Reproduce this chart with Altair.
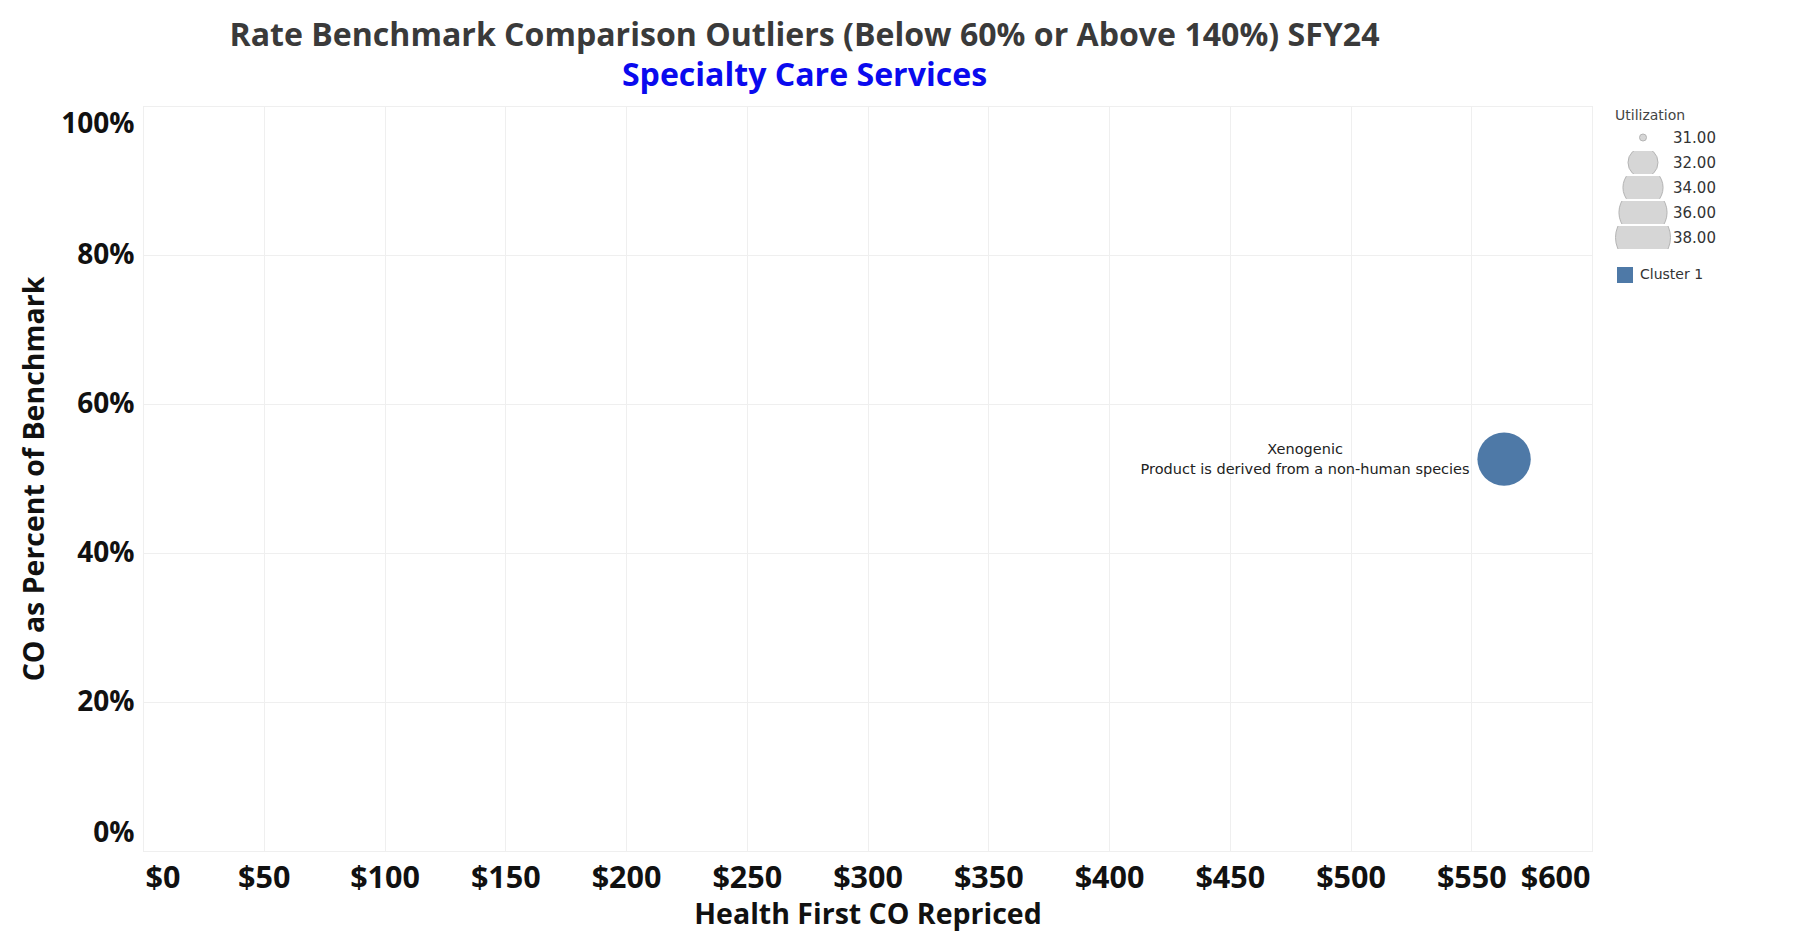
import altair as alt
import pandas as pd

# ---- data ----
repriced = [563.6]                      # Health First CO Repriced ($)
pct_of_benchmark = [0.526]              # CO as Percent of Benchmark
utilization = [37.5]
cluster = ["Cluster 1"]
label_name = ["Xenogenic"]
label_desc = ["Product is derived from a non-human species"]

x_ticks = [0, 50, 100, 150, 200, 250, 300, 350, 400, 450, 500, 550, 600]
y_ticks = [0.0, 0.2, 0.4, 0.6, 0.8, 1.0]
size_legend_values = [31, 32, 34, 36, 38]
cluster_colors = ["#4e79a7"]

df = pd.DataFrame({
    "repriced": repriced,
    "pct": pct_of_benchmark,
    "utilization": utilization,
    "cluster": cluster,
    "name": label_name,
    "desc": label_desc,
})
df["label"] = df["name"] + "\n" + df["desc"]

W, H = 1449, 745
PAD = {"left": 135, "top": 98, "right": 195, "bottom": 82}

BOLD_FONT = "Open Sans"
SMALL_FONT = "DejaVu Sans"

x_enc = alt.X(
    "repriced:Q",
    title="Health First CO Repriced",
    scale=alt.Scale(domain=[0, 600], nice=False, zero=False),
    axis=alt.Axis(
        values=x_ticks, format="$.0f",
        labelFont=BOLD_FONT, labelFontSize=30.5, labelFontWeight="bold", labelColor="#111111",
        labelFlush=True, labelFlushOffset=-2, labelPadding=12, ticks=False, domain=False,
        grid=True, gridColor="#efefef", gridWidth=1,
        titleFont=BOLD_FONT, titleFontSize=28.5, titleFontWeight="bold", titleColor="#111111",
        titleY=63, titleBaseline="middle",
    ),
)
y_enc = alt.Y(
    "pct:Q",
    title="CO as Percent of Benchmark",
    scale=alt.Scale(domain=[0, 1], nice=False, zero=False),
    axis=alt.Axis(
        values=y_ticks, format=".0%",
        labelFont=BOLD_FONT, labelFontSize=28, labelFontWeight="bold", labelColor="#111111",
        labelFlush=True, labelFlushOffset=-4, labelPadding=9, ticks=False, domain=False,
        grid=True, gridColor="#efefef", gridWidth=1,
        titleFont=BOLD_FONT, titleFontSize=28.5, titleFontWeight="bold", titleColor="#111111",
        titleX=-109, titleY=H / 2, titleBaseline="middle",
    ),
)

points = alt.Chart(df).mark_circle(opacity=1).encode(
    x=x_enc,
    y=y_enc,
    size=alt.Size(
        "utilization:Q",
        scale=alt.Scale(domain=[31, 32, 38], range=[49, 900, 3025], zero=False),
        legend=alt.Legend(
            title="Utilization", orient="none", legendX=1472, legendY=3,
            values=size_legend_values, format=".2f",
            clipHeight=23, rowPadding=2, padding=0,
            symbolType="circle", symbolFillColor="#d6d6d6", symbolStrokeColor="#b4b4b4",
            symbolStrokeWidth=1, symbolOpacity=1,
            labelOffset=2, labelFont=SMALL_FONT, labelFontSize=15, labelColor="#333333",
            titleFont=SMALL_FONT, titleFontSize=14, titleFontWeight="normal",
            titleColor="#444444", titlePadding=3,
        ),
    ),
    color=alt.Color(
        "cluster:N",
        scale=alt.Scale(domain=cluster, range=cluster_colors),
        legend=alt.Legend(
            title=None, orient="none", legendX=1474, legendY=161, padding=0,
            symbolType="square", symbolSize=256, symbolStrokeWidth=0, symbolOpacity=1,
            labelOffset=7, labelFont=SMALL_FONT, labelFontSize=14, labelColor="#333333",
        ),
    ),
)

labels = alt.Chart(df).mark_text(
    align="center", baseline="middle", dx=-199, dy=-9.5, lineBreak="\n", lineHeight=20,
    font=SMALL_FONT, fontSize=14.5, color="#222222",
).encode(
    x=alt.X("repriced:Q"),
    y=alt.Y("pct:Q"),
    text="label:N",
)

chart = alt.layer(points, labels).properties(
    width=W,
    height=H,
    padding=PAD,
    autosize=alt.AutoSizeParams(type="none"),
    background="white",
    title=alt.Title(
        text="Rate Benchmark Comparison Outliers (Below 60% or Above 140%) SFY24",
        subtitle="Specialty Care Services",
        font=BOLD_FONT, fontSize=32.1, fontWeight="bold", color="#3a3a3a",
        subtitleFont=BOLD_FONT, subtitleFontSize=32.1, subtitleFontWeight="bold",
        subtitleColor="#0a0aee", subtitlePadding=8,
        anchor="middle", frame="group", dx=-63, offset=13.2,
    ),
).configure_view(stroke="#e6e6e6", strokeWidth=1)

chart.save("out.html", embed_options={"renderer": "svg", "actions": False})
